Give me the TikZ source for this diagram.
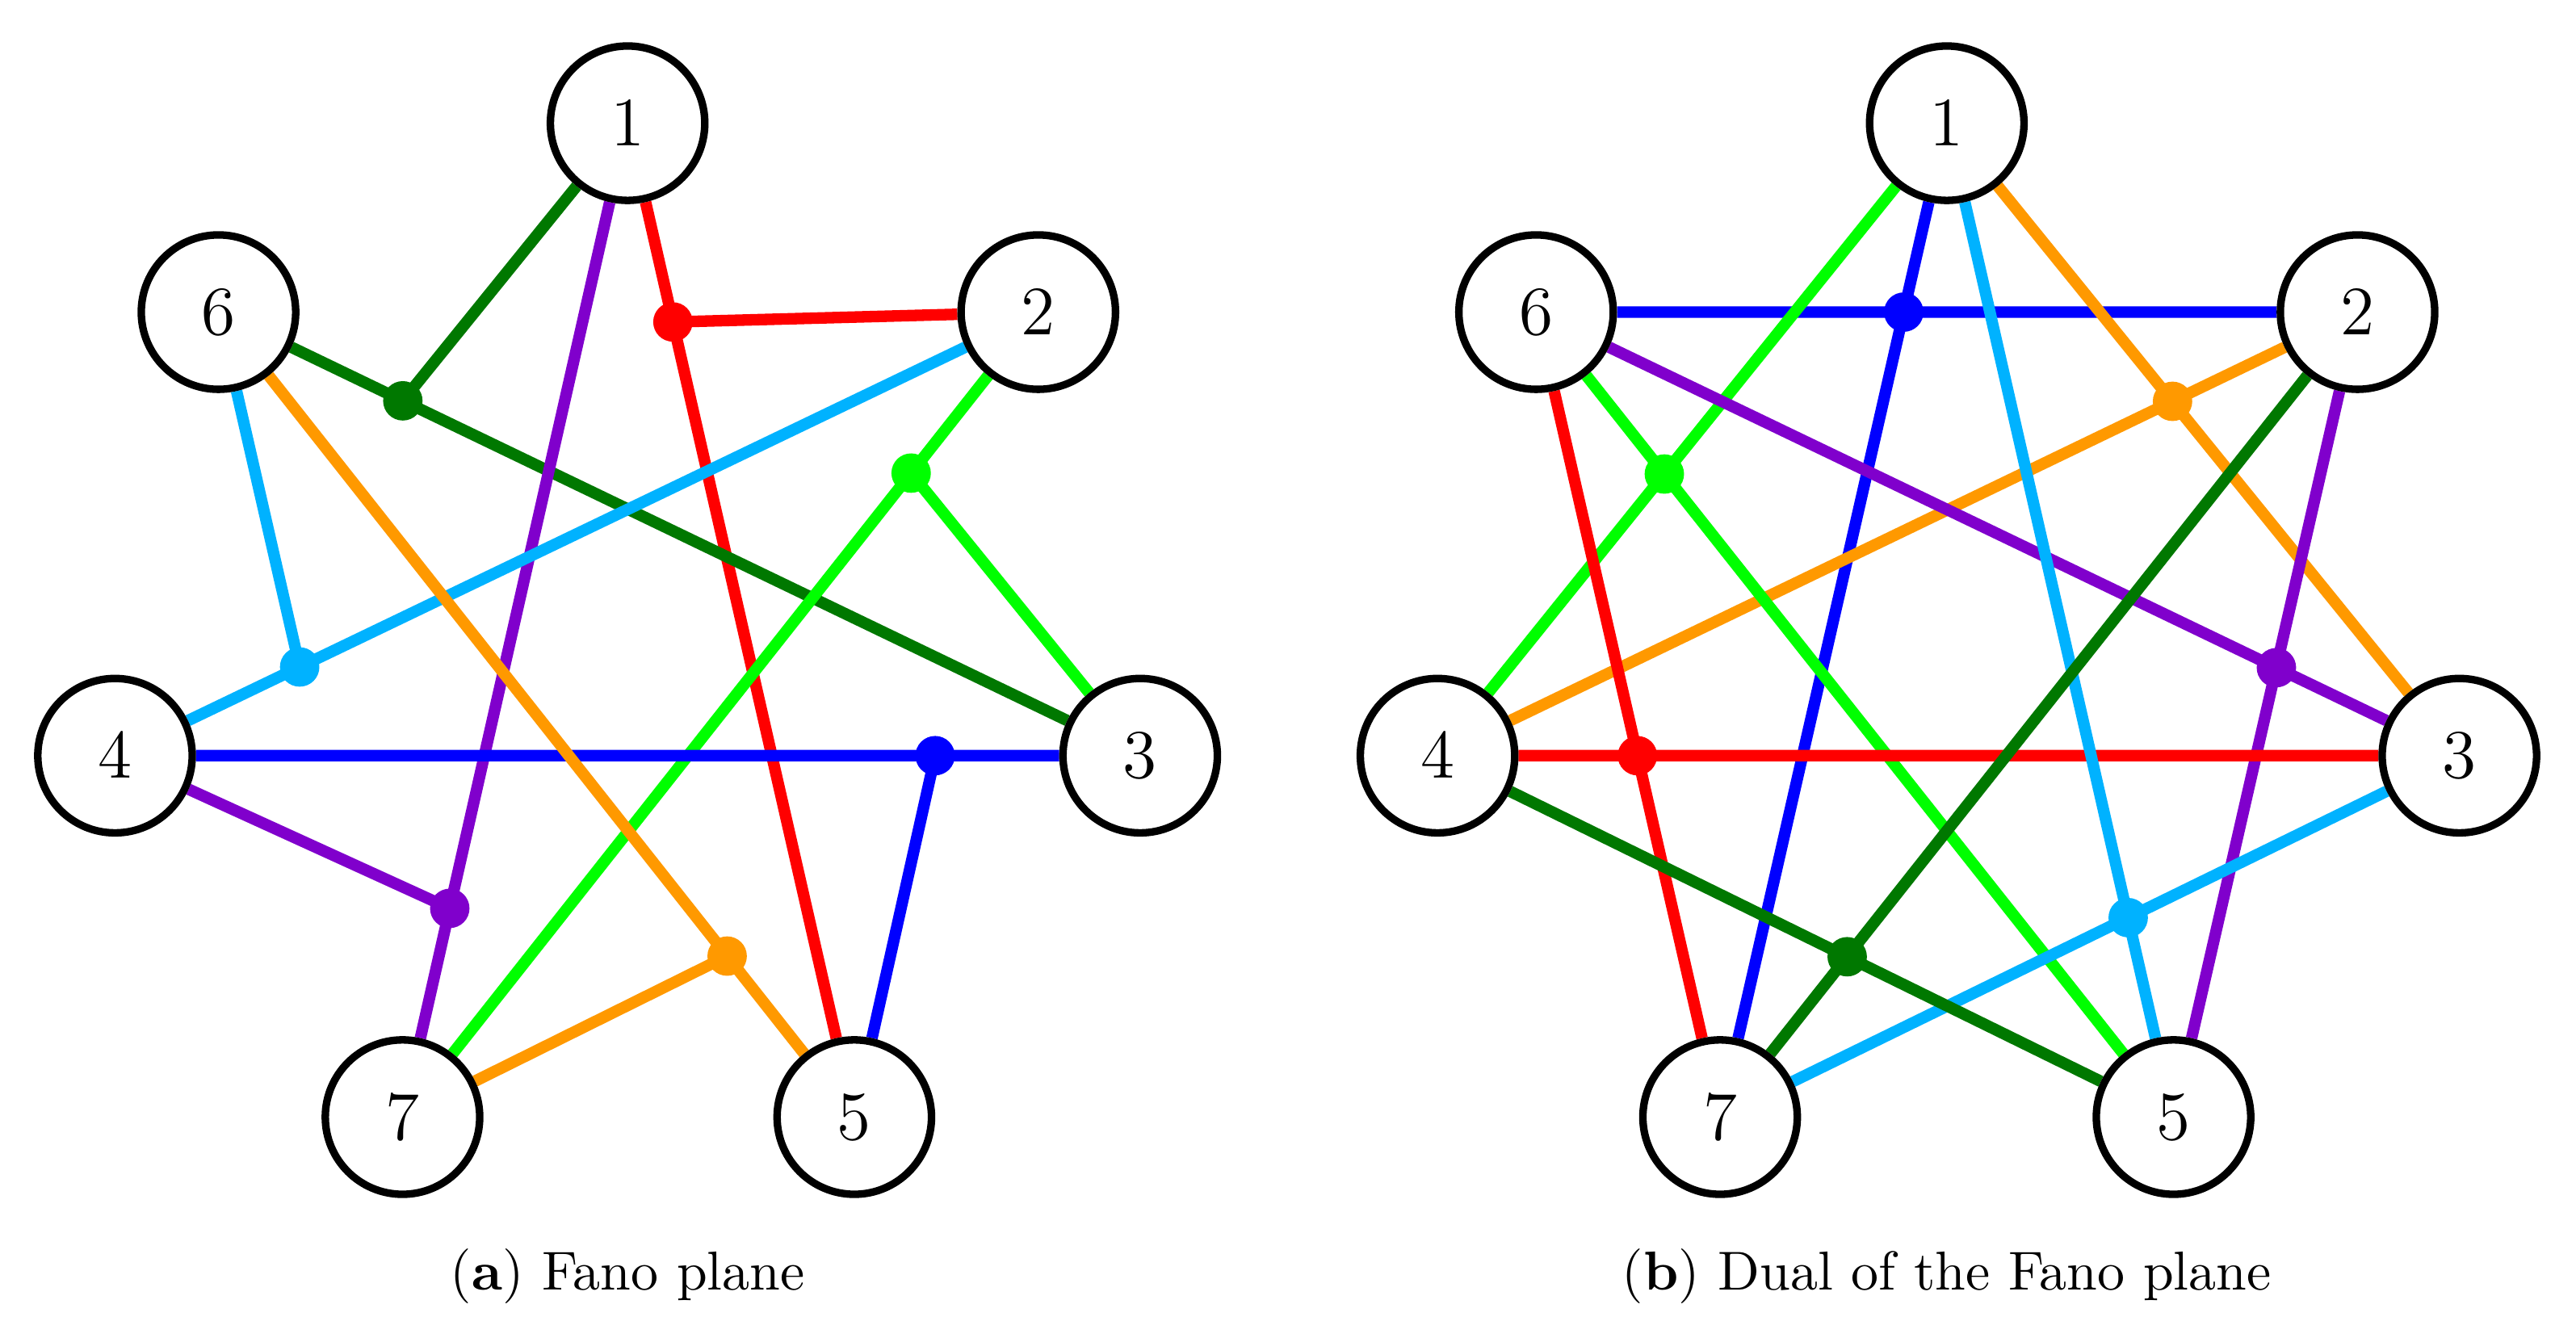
\documentclass[tikz,border=0pt]{standalone}
\usetikzlibrary{backgrounds,calc}
\definecolor{fred}{rgb}{1,0,0}
\definecolor{fdkgreen}{rgb}{0,0.47,0}
\definecolor{fpurple}{rgb}{0.5,0,0.8}
\definecolor{fltblue}{rgb}{0,0.7,1}
\definecolor{fgreen}{rgb}{0,1,0}
\definecolor{fblue}{rgb}{0,0,1}
\definecolor{forange}{rgb}{1,0.6,0}
\tikzset{
    pt/.style={circle, draw=black, line width=1.3pt, fill=white, minimum size=0.94cm, inner sep=0pt, font=\fontsize{12.5}{15}\selectfont},
    ln/.style={line width=2pt},
    dot/.style={circle, fill=#1, inner sep=0pt, minimum size=0.24cm},
    captxt/.style={font=\fontsize{9.5}{11}\selectfont}
}
\begin{document}
\begin{tikzpicture}
    \useasboundingbox (0,0) rectangle (15.68,8.14);
    % left: Fano plane
    \node[pt] (a1) at (3.82,7.39) {$1$};
    \node[pt] (a2) at (6.32,6.24) {$2$};
    \node[pt] (a3) at (6.94,3.54) {$3$};
    \node[pt] (a4) at (0.70,3.54) {$4$};
    \node[pt] (a5) at (5.20,1.34) {$5$};
    \node[pt] (a6) at (1.33,6.24) {$6$};
    \node[pt] (a7) at (2.45,1.34) {$7$};
    \coordinate (ared) at ($(a1)!0.2!(a5)$);
    \coordinate (adkgreen) at ($(a6)!0.2!(a3)$);
    \coordinate (apurple) at ($(a1)!0.79!(a7)$);
    \coordinate (altblue) at ($(a2)!0.8!(a4)$);
    \coordinate (agreen) at ($(a7)!0.8!(a2)$);
    \coordinate (ablue) at ($(a4)!0.8!(a3)$);
    \coordinate (aorange) at ($(a6)!0.8!(a5)$);
    \begin{scope}[on background layer]
        \draw[ln, fred] (a1) -- (a5) (ared) -- (a2);
        \draw[ln, fdkgreen] (a6) -- (a3) (adkgreen) -- (a1);
        \draw[ln, fpurple] (a1) -- (a7) (apurple) -- (a4);
        \draw[ln, fltblue] (a2) -- (a4) (altblue) -- (a6);
        \draw[ln, fgreen] (a7) -- (a2) (agreen) -- (a3);
        \draw[ln, fblue] (a4) -- (a3) (ablue) -- (a5);
        \draw[ln, forange] (a6) -- (a5) (aorange) -- (a7);
        \foreach \c in {red,dkgreen,purple,ltblue,green,blue,orange}
            \node[dot=f\c] at (a\c) {};
    \end{scope}
    \node[captxt] (capa) at (3.82,0.37) {(\textbf{a}) Fano plane};
    % right: dual
    \node[pt] (b1) at (11.85,7.39) {$1$};
    \node[pt] (b2) at (14.35,6.24) {$2$};
    \node[pt] (b3) at (14.97,3.54) {$3$};
    \node[pt] (b4) at (8.75,3.54) {$4$};
    \node[pt] (b5) at (13.23,1.34) {$5$};
    \node[pt] (b6) at (9.35,6.24) {$6$};
    \node[pt] (b7) at (10.47,1.34) {$7$};
    \coordinate (bblue) at (intersection of b6--b2 and b1--b7);
    \coordinate (borange) at (intersection of b1--b3 and b4--b2);
    \coordinate (bgreen) at (intersection of b1--b4 and b6--b5);
    \coordinate (bpurple) at (intersection of b6--b3 and b2--b5);
    \coordinate (bred) at (intersection of b6--b7 and b4--b3);
    \coordinate (bltblue) at (intersection of b1--b5 and b7--b3);
    \coordinate (bdkgreen) at (intersection of b2--b7 and b4--b5);
    \begin{scope}[on background layer]
        \draw[ln, fblue] (b6) -- (b2) (b1) -- (b7);
        \draw[ln, forange] (b1) -- (b3) (b4) -- (b2);
        \draw[ln, fgreen] (b1) -- (b4) (b6) -- (b5);
        \draw[ln, fpurple] (b6) -- (b3) (b2) -- (b5);
        \draw[ln, fred] (b6) -- (b7) (b4) -- (b3);
        \draw[ln, fltblue] (b1) -- (b5) (b7) -- (b3);
        \draw[ln, fdkgreen] (b2) -- (b7) (b4) -- (b5);
        \foreach \c in {red,dkgreen,purple,ltblue,green,blue,orange}
            \node[dot=f\c] at (b\c) {};
    \end{scope}
    \node[captxt] (capb) at (11.85,0.37) {(\textbf{b}) Dual of the Fano plane};
\end{tikzpicture}
\end{document}
